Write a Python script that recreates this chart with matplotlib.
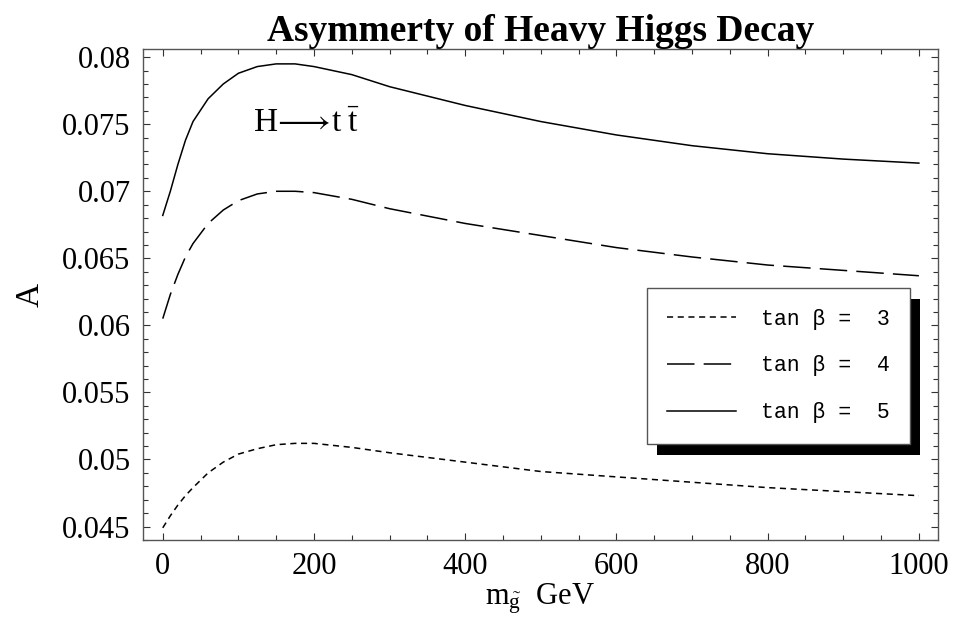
import matplotlib.pyplot as plt
from matplotlib.patches import Rectangle
from matplotlib.ticker import MultipleLocator

plt.rcParams['font.family'] = 'Liberation Serif'
plt.rcParams['mathtext.fontset'] = 'custom'
plt.rcParams['mathtext.rm'] = 'Liberation Serif'
plt.rcParams['mathtext.it'] = 'Liberation Serif:italic'

# gluino mass (GeV)
m_gluino = [0, 10, 20, 30, 40, 60, 80, 100, 125, 150, 175, 200, 250, 300, 400, 500, 600, 700, 800, 900, 1000]

# asymmetry for each tan beta
asym_tb3 = [0.0449, 0.0458, 0.0466, 0.0473, 0.0479, 0.0490, 0.0498, 0.0504, 0.0508, 0.0511, 0.0512,
            0.0512, 0.0509, 0.0505, 0.0498, 0.0491, 0.0487, 0.0483, 0.0479, 0.0476, 0.0473]
asym_tb4 = [0.0605, 0.0623, 0.0638, 0.0651, 0.0661, 0.0676, 0.0686, 0.0693, 0.0698, 0.0700, 0.0700,
            0.0699, 0.0694, 0.0687, 0.0676, 0.0667, 0.0658, 0.0651, 0.0645, 0.0641, 0.0637]
asym_tb5 = [0.0682, 0.0700, 0.0720, 0.0738, 0.0752, 0.0769, 0.0780, 0.0788, 0.0793, 0.0795, 0.0795,
            0.0793, 0.0787, 0.0778, 0.0764, 0.0752, 0.0742, 0.0734, 0.0728, 0.0724, 0.0721]

labels = ['tan β =  3', 'tan β =  4', 'tan β =  5']

fig = plt.figure(figsize=(9.54, 6.3), dpi=100)
ax = fig.add_axes([0.150, 0.143, 0.833, 0.779])

ax.plot(m_gluino, asym_tb3, color='black', lw=1.1, dashes=(4, 3), label=labels[0])
ax.plot(m_gluino, asym_tb4, color='black', lw=1.1, dashes=(18, 6), label=labels[1])
ax.plot(m_gluino, asym_tb5, color='black', lw=1.1, label=labels[2])

ax.set_xlim(-26, 1025)
ax.set_ylim(0.044, 0.0806)
ax.xaxis.set_major_locator(MultipleLocator(200))
ax.xaxis.set_minor_locator(MultipleLocator(50))
ax.yaxis.set_minor_locator(MultipleLocator(0.001))
ax.set_yticks([0.045, 0.05, 0.055, 0.06, 0.065, 0.07, 0.075, 0.08])
ax.set_yticklabels(['0.045', '0.05', '0.055', '0.06', '0.065', '0.07', '0.075', '0.08'])
ax.tick_params(which='both', direction='in', top=True, right=True, width=0.8, color='#333333')
ax.tick_params(axis='x', labelsize=22, pad=9)
ax.tick_params(axis='y', labelsize=22, pad=9)
ax.tick_params(which='major', length=5)
ax.tick_params(which='minor', length=3.5)
for s in ax.spines.values():
    s.set_color('#555555')
    s.set_linewidth(1.0)

ax.set_xlabel(r'$\mathrm{m}_{\tilde{\mathrm{g}}}$  GeV', fontsize=22, labelpad=0)
ax.set_ylabel('A', fontsize=24, labelpad=12)
ax.set_title('Asymmerty of Heavy Higgs Decay', fontsize=27, fontweight='bold', pad=6)

ax.text(190, 0.0750, r'$\mathrm{H}\!\longrightarrow\!\mathrm{t}\;\bar{\mathrm{t}}$',
        fontsize=24, ha='center', va='center')

leg = ax.legend(loc='upper left', bbox_to_anchor=(0.634, 0.513), borderaxespad=0,
                prop={'family': 'Liberation Mono', 'size': 15.5}, frameon=True, fancybox=False,
                framealpha=1, handlelength=3.2, handletextpad=1.15, labelspacing=1.2,
                borderpad=0.95)
leg.get_frame().set_edgecolor('#555555')
leg.get_frame().set_linewidth(1.0)
leg.set_zorder(5)

fig.canvas.draw()
bb = leg.get_window_extent().transformed(fig.transFigure.inverted())
shadow = Rectangle((bb.x0 + 10 / 954, bb.y0 - 11 / 630), bb.width, bb.height,
                   transform=fig.transFigure, facecolor='black', edgecolor='none', zorder=4)
shadow.set_clip_on(False)
ax.add_artist(shadow)

fig.savefig('out.png', dpi=100)
